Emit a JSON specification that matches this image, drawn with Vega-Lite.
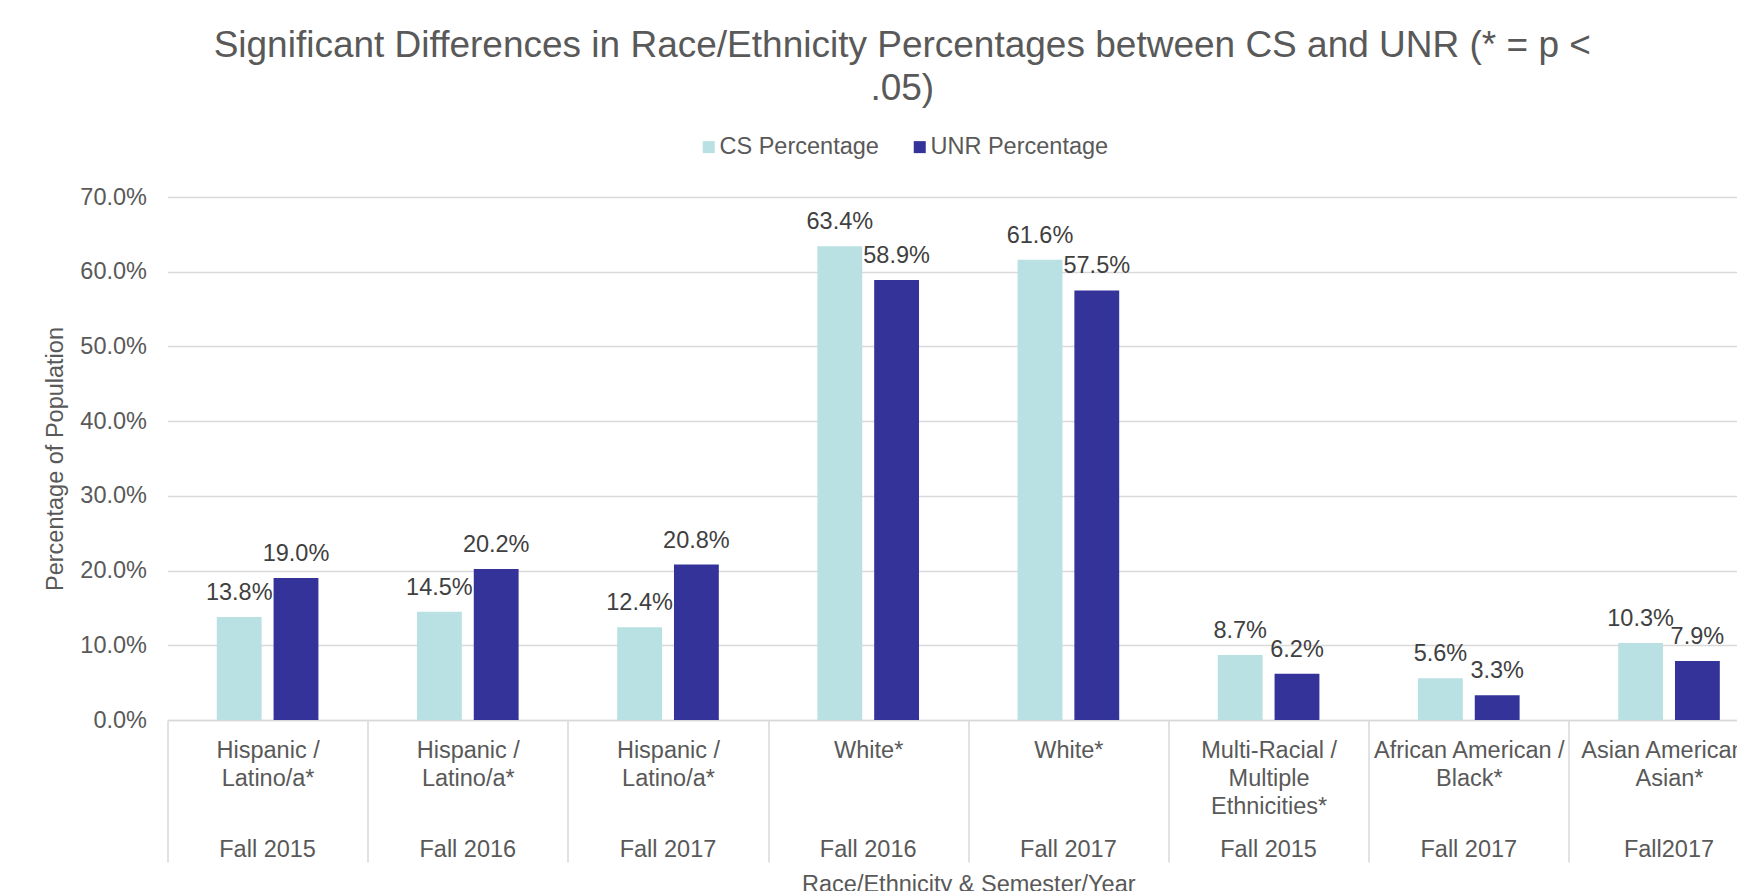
{
  "$schema": "https://vega.github.io/schema/vega-lite/v6.json",
  "width": 1569.5,
  "height": 523,
  "autosize": {"type": "none"},
  "padding": {"left": 167.5, "top": 197, "right": 0, "bottom": 171},
  "config": {"font": "Liberation Sans", "view": {"stroke": null}},
  "title": {
    "text": ["Significant Differences in Race/Ethnicity Percentages between CS and UNR (* = p <", ".05)"],
    "fontSize": 37,
    "fontWeight": "normal",
    "color": "#595959",
    "lineHeight": 43,
    "anchor": "middle",
    "frame": "group",
    "dx": -50,
    "offset": 27
  },
  "data": {
    "values": [
      {"category": "Hispanic /~Latino/a*|Fall 2015", "series": "CS Percentage", "value": 0.138},
      {"category": "Hispanic /~Latino/a*|Fall 2015", "series": "UNR Percentage", "value": 0.190},
      {"category": "Hispanic /~Latino/a*|Fall 2016", "series": "CS Percentage", "value": 0.145},
      {"category": "Hispanic /~Latino/a*|Fall 2016", "series": "UNR Percentage", "value": 0.202},
      {"category": "Hispanic /~Latino/a*|Fall 2017", "series": "CS Percentage", "value": 0.124},
      {"category": "Hispanic /~Latino/a*|Fall 2017", "series": "UNR Percentage", "value": 0.208},
      {"category": "White*|Fall 2016", "series": "CS Percentage", "value": 0.634},
      {"category": "White*|Fall 2016", "series": "UNR Percentage", "value": 0.589},
      {"category": "White*|Fall 2017", "series": "CS Percentage", "value": 0.616},
      {"category": "White*|Fall 2017", "series": "UNR Percentage", "value": 0.575},
      {"category": "Multi-Racial /~Multiple~Ethnicities*|Fall 2015", "series": "CS Percentage", "value": 0.087},
      {"category": "Multi-Racial /~Multiple~Ethnicities*|Fall 2015", "series": "UNR Percentage", "value": 0.062},
      {"category": "African American /~Black*|Fall 2017", "series": "CS Percentage", "value": 0.056},
      {"category": "African American /~Black*|Fall 2017", "series": "UNR Percentage", "value": 0.033},
      {"category": "Asian American /~Asian*|Fall2017", "series": "CS Percentage", "value": 0.103},
      {"category": "Asian American /~Asian*|Fall2017", "series": "UNR Percentage", "value": 0.079}
    ]
  },
  "resolve": {"axis": {"x": "independent"}},
  "layer": [
    {
      "mark": {"type": "bar"},
      "encoding": {
        "x": {
          "field": "category",
          "type": "nominal",
          "sort": null,
          "scale": {"range": [0, 1601.6], "paddingInner": 0, "paddingOuter": 0},
          "axis": {
            "orient": "bottom",
            "title": null,
            "labelExpr": "split(split(datum.label, '|')[0], '~')",
            "labelAngle": 0,
            "labelFontSize": 23.5,
            "labelColor": "#595959",
            "labelLineHeight": 28,
            "labelLimit": 300,
            "labelOverlap": false,
            "labelBound": false,
            "labelBaseline": "top",
            "tickBand": "extent",
            "ticks": true,
            "tickSize": 142,
            "tickColor": "#D9D9D9",
            "tickWidth": 1.5,
            "labelPadding": -124,
            "domain": true,
            "domainColor": "#D9D9D9",
            "domainWidth": 1.5,
            "grid": false
          }
        },
        "xOffset": {
          "field": "series",
          "type": "nominal",
          "scale": {"paddingInner": 0.2105, "paddingOuter": 0.868}
        },
        "y": {
          "field": "value",
          "type": "quantitative",
          "scale": {"domain": [0, 0.7]},
          "axis": {
            "values": [0, 0.1, 0.2, 0.3, 0.4, 0.5, 0.6, 0.7],
            "format": ".1%",
            "labelFontSize": 23.5,
            "labelColor": "#595959",
            "labelPadding": 21,
            "ticks": false,
            "domain": false,
            "grid": true,
            "gridColor": "#D9D9D9",
            "gridWidth": 1.5,
            "title": "Percentage of Population",
            "titleFontSize": 23.5,
            "titleFontWeight": "normal",
            "titleColor": "#595959",
            "titlePadding": 12
          }
        },
        "color": {
          "field": "series",
          "type": "nominal",
          "scale": {"domain": ["CS Percentage", "UNR Percentage"], "range": ["#B9E0E3", "#333399"]},
          "legend": {
            "orient": "none",
            "legendX": 529.5,
            "legendY": -62,
            "direction": "horizontal",
            "title": null,
            "symbolType": "square",
            "symbolSize": 144,
            "symbolStrokeWidth": 0,
            "symbolOpacity": 1,
            "labelFontSize": 23.5,
            "labelColor": "#595959",
            "labelLimit": 400,
            "labelOffset": -1,
            "columnPadding": 29
          }
        }
      }
    },
    {
      "mark": {"type": "text", "dy": -24, "fontSize": 23.5, "color": "#404040", "baseline": "middle"},
      "encoding": {
        "x": {
          "field": "category",
          "type": "nominal",
          "sort": null,
          "axis": {
            "orient": "bottom",
            "labelExpr": "split(datum.label, '|')[1]",
            "labelAngle": 0,
            "labelFontSize": 23.5,
            "labelColor": "#595959",
            "labelLimit": 300,
            "labelOverlap": false,
            "labelBound": false,
            "labelBaseline": "top",
            "ticks": false,
            "domain": false,
            "grid": false,
            "labelPadding": 117,
            "title": "Race/Ethnicity & Semester/Year",
            "titleFontSize": 23.5,
            "titleFontWeight": "normal",
            "titleColor": "#595959",
            "titlePadding": 12
          }
        },
        "xOffset": {"field": "series", "type": "nominal"},
        "y": {"field": "value", "type": "quantitative"},
        "text": {"field": "value", "type": "quantitative", "format": ".1%"}
      }
    }
  ]
}
